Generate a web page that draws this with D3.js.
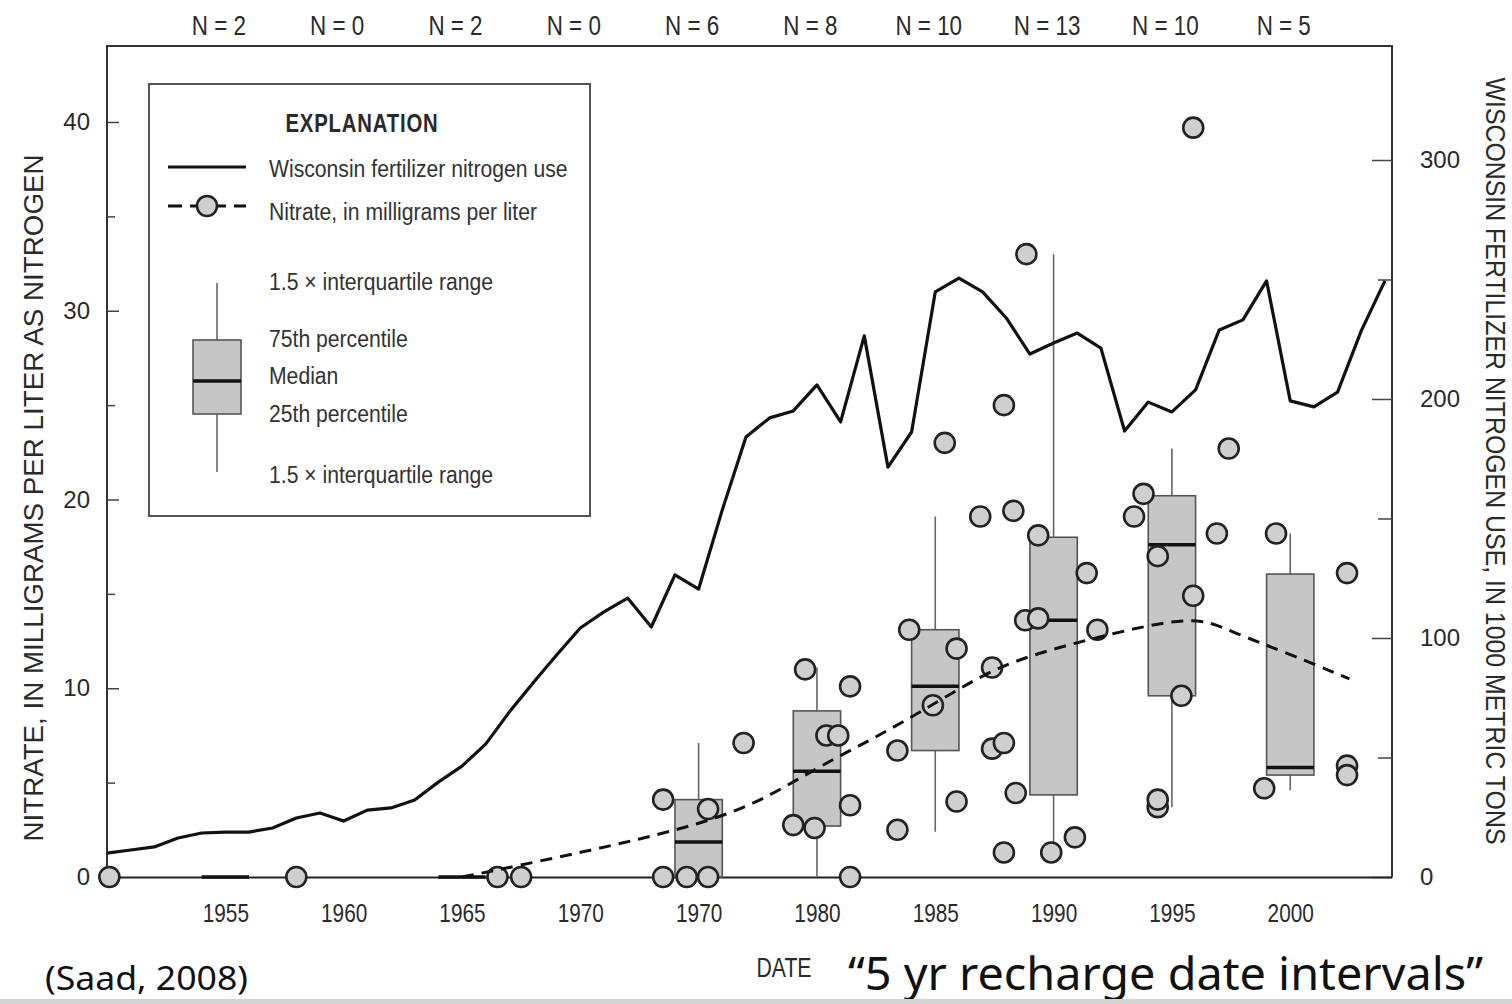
<!DOCTYPE html>
<html>
<head>
<meta charset="utf-8">
<script src="https://cdn.jsdelivr.net/npm/d3@7"></script>
<style>
  body { margin: 0; background: #fff; }
  svg { display: block; }
</style>
</head>
<body>
<div id="chart"></div>
<script>
// Wisconsin fertilizer nitrogen use, 1000 metric tons (right axis)
const fertYears = [1950, 1951, 1952, 1953, 1954, 1955, 1956, 1957, 1958, 1959,
  1960, 1961, 1962, 1963, 1964, 1965, 1966, 1967, 1968, 1969,
  1970, 1971, 1972, 1973, 1974, 1975, 1976, 1977, 1978, 1979,
  1980, 1981, 1982, 1983, 1984, 1985, 1986, 1987, 1988, 1989,
  1990, 1991, 1992, 1993, 1994, 1995, 1996, 1997, 1998, 1999,
  2000, 2001, 2002, 2003, 2004];
const fertUse = [10, 11.3, 12.6, 16.3, 18.4, 18.8, 18.8, 20.5, 24.7, 26.8,
  23.4, 28, 28.9, 32.2, 39.7, 46.4, 55.6, 69, 81.2, 92.9,
  104.2, 110.9, 116.7, 104.6, 126.4, 120.5, 153.6, 184.1, 192.1, 195,
  205.9, 190.4, 226.4, 171.5, 186.2, 244.8, 250.6, 244.8, 233.9, 218.8,
  223.4, 227.6, 221.3, 186.6, 198.7, 194.6, 203.8, 228.9, 233.1, 249.4,
  199.2, 196.7, 202.9, 228.5, 249.4];

// nitrate samples (recharge date, mg/L)
const sampleDates = [1950.1, 1958.0, 1966.5, 1967.5,
  1973.5, 1974.5, 1975.4, 1973.5, 1975.4, 1976.9,
  1979.5, 1980.4, 1980.9, 1979.0, 1979.9, 1981.4, 1981.4, 1981.4,
  1987.9, 1985.4, 1986.9, 1988.3, 1989.35, 1991.4, 1983.9, 1985.9, 1988.8, 1989.35,
  1991.85, 1984.9, 1987.4, 1983.4, 1987.4, 1987.9, 1985.9, 1988.4, 1983.4, 1987.9,
  1989.9, 1990.9, 1988.85,
  1995.9, 1993.8, 1993.4, 1994.4, 1995.9, 1995.4, 1994.4, 1994.4, 1996.9, 1997.4,
  1999.4, 1998.9, 2002.4, 2002.4, 2002.4];
const sampleNitrate = [0, 0, 0, 0,
  0, 0, 0, 4.1, 3.6, 7.1,
  11.0, 7.5, 7.5, 2.75, 2.6, 10.1, 3.8, 0,
  25.0, 23.0, 19.1, 19.4, 18.1, 16.1, 13.1, 12.1, 13.6, 13.7,
  13.1, 9.1, 11.1, 6.7, 6.8, 7.1, 4.0, 4.45, 2.5, 1.3,
  1.3, 2.1, 33.0,
  39.7, 20.3, 19.1, 17.0, 14.9, 9.6, 3.7, 4.1, 18.2, 22.7,
  18.2, 4.7, 16.1, 5.9, 5.4];

// smoothed nitrate trend (dashed)
const trendYears = [1965, 1966.5, 1970, 1972.5, 1975, 1977.5, 1980, 1982.5, 1985,
  1987.5, 1990, 1992.5, 1995, 1996.5, 1997.5, 2000, 2002.5];
const trendNitrate = [0, 0.37, 1.3, 2.0, 2.8, 3.9, 5.8, 7.4, 9.2,
  11.1, 12.1, 12.9, 13.6, 13.6, 13.0, 11.8, 10.5];

// boxplots by 5-yr recharge interval
const boxYears = [1955, 1965, 1975, 1980, 1985, 1990, 1995, 2000];
const boxLow = [0, 0, 0, 0, 2.4, 1.3, 3.7, 4.6];
const boxQ1 = [0, 0, 0, 2.7, 6.7, 4.35, 9.6, 5.4];
const boxMedian = [0, 0, 1.85, 5.6, 10.1, 13.6, 17.6, 5.8];
const boxQ3 = [0, 0, 4.1, 8.8, 13.1, 18.0, 20.2, 16.05];
const boxHigh = [0, 0, 7.1, 11.1, 19.1, 33.0, 22.7, 18.2];

// sample counts and date tick labels
const intervalYears = [1955, 1960, 1965, 1970, 1975, 1980, 1985, 1990, 1995, 2000];
const intervalN = [2, 0, 2, 0, 6, 8, 10, 13, 10, 5];
const dateTickLabels = ["1955", "1960", "1965", "1970", "1970", "1980", "1985", "1990", "1995", "2000"];

const face = "'Liberation Sans', Arial, sans-serif";
const ink = "#2a2a2a";

// squeeze text horizontally to mimic the condensed typeface of the figure
function condense(sel, ratio) {
  sel.each(function () {
    const w = this.getComputedTextLength();
    d3.select(this).attr("textLength", w * ratio).attr("lengthAdjust", "spacingAndGlyphs");
  });
}
function fitTo(sel, width) {
  sel.attr("textLength", width).attr("lengthAdjust", "spacingAndGlyphs");
}

const svg = d3.select("#chart")
  .append("svg")
  .attr("width", 1512)
  .attr("height", 1004);

const plotLeft = 107, plotRight = 1392, plotTop = 46, plotBottom = 877;

const x = d3.scaleLinear().domain([1950, 2004.3]).range([plotLeft, plotRight]);
const yL = d3.scaleLinear().domain([0, 40]).range([plotBottom, 122]);
const yR = d3.scaleLinear().domain([0, 300]).range([plotBottom, 160]);

// frame
svg.append("path")
  .attr("d", `M${plotLeft},${plotBottom}V${plotTop}H${plotRight}V${plotBottom}`)
  .attr("fill", "none")
  .attr("stroke", "#333")
  .attr("stroke-width", 2);

// left axis (ticks point inward)
svg.append("g")
  .attr("transform", `translate(${plotLeft},0)`)
  .call(d3.axisLeft(yL).tickValues([5, 15, 25, 35]).tickSize(-8).tickFormat(""))
  .call(g => g.select(".domain").remove())
  .call(g => g.selectAll("line").attr("stroke", "#444").attr("stroke-width", 1.5));
svg.append("g")
  .attr("transform", `translate(${plotLeft},0)`)
  .call(d3.axisLeft(yL).tickValues([0, 10, 20, 30, 40]).tickSizeInner(-12).tickSizeOuter(0).tickPadding(17))
  .call(g => g.select(".domain").remove())
  .call(g => g.selectAll("line").attr("stroke", "#444").attr("stroke-width", 1.5))
  .call(g => g.selectAll("text").attr("font-family", face).attr("font-size", 24).attr("fill", ink));

// right axis (ticks point inward)
svg.append("g")
  .attr("transform", `translate(${plotRight},0)`)
  .call(d3.axisRight(yR).tickValues([50, 150, 250]).tickSize(-14).tickFormat(""))
  .call(g => g.select(".domain").remove())
  .call(g => g.selectAll("line").attr("stroke", "#444").attr("stroke-width", 1.5));
svg.append("g")
  .attr("transform", `translate(${plotRight},0)`)
  .call(d3.axisRight(yR).tickValues([0, 100, 200, 300]).tickSizeInner(-20).tickSizeOuter(0).tickPadding(28))
  .call(g => g.select(".domain").remove())
  .call(g => g.selectAll("line").attr("stroke", "#444").attr("stroke-width", 1.5))
  .call(g => g.selectAll("text").attr("font-family", face).attr("font-size", 24).attr("fill", ink));

// bottom date labels
svg.append("g")
  .attr("transform", `translate(0,${plotBottom})`)
  .call(d3.axisBottom(x).tickValues(intervalYears).tickSize(0).tickPadding(27)
    .tickFormat((d, i) => dateTickLabels[i]))
  .call(g => g.select(".domain").attr("stroke", "#222").attr("stroke-width", 2))
  .call(g => g.selectAll("text").attr("font-family", face).attr("font-size", 26).attr("fill", ink)
    .call(condense, 0.8));

// N counts above the frame
svg.append("g")
  .attr("transform", `translate(-7,35)`)
  .call(d3.axisTop(x).tickValues(intervalYears).tickSize(0).tickPadding(0)
    .tickFormat((d, i) => "N = " + intervalN[i]))
  .call(g => g.select(".domain").remove())
  .call(g => g.selectAll("text").attr("font-family", face).attr("font-size", 28).attr("fill", ink)
    .call(condense, 0.8));

// boxplots
const boxW = x(1951) - x(1950);
const boxes = svg.append("g");
boxYears.forEach((yr, i) => {
  const cx = x(yr);
  boxes.append("line")
    .attr("x1", cx).attr("x2", cx)
    .attr("y1", yL(boxLow[i])).attr("y2", yL(boxHigh[i]))
    .attr("stroke", "#666").attr("stroke-width", 1.6);
  boxes.append("rect")
    .attr("x", cx - boxW).attr("width", boxW * 2)
    .attr("y", yL(boxQ3[i])).attr("height", yL(boxQ1[i]) - yL(boxQ3[i]))
    .attr("fill", "#c6c6c6").attr("stroke", "#555").attr("stroke-width", 1.6);
  boxes.append("line")
    .attr("x1", cx - boxW).attr("x2", cx + boxW)
    .attr("y1", yL(boxMedian[i])).attr("y2", yL(boxMedian[i]))
    .attr("stroke", "#111").attr("stroke-width", 3.5);
});

// fertilizer use line
svg.append("path")
  .datum(fertYears.map((d, i) => [d, fertUse[i]]))
  .attr("fill", "none")
  .attr("stroke", "#111")
  .attr("stroke-width", 3.2)
  .attr("stroke-linejoin", "round")
  .attr("d", d3.line().x(d => x(d[0])).y(d => yR(d[1])));

// sample points
svg.append("g")
  .selectAll("circle")
  .data(sampleDates.map((d, i) => [d, sampleNitrate[i]]))
  .enter()
  .append("circle")
  .attr("cx", d => x(d[0]))
  .attr("cy", d => yL(d[1]))
  .attr("r", 10)
  .attr("fill", "#cfcfcf")
  .attr("stroke", "#222")
  .attr("stroke-width", 2.6);

// smoothed trend
svg.append("path")
  .datum(trendYears.map((d, i) => [d, trendNitrate[i]]))
  .attr("fill", "none")
  .attr("stroke", "#111")
  .attr("stroke-width", 3)
  .attr("stroke-dasharray", "12,8")
  .attr("d", d3.line().curve(d3.curveBasis).x(d => x(d[0])).y(d => yL(d[1])));

// legend
const lg = svg.append("g");
lg.append("rect")
  .attr("x", 149).attr("y", 84).attr("width", 441).attr("height", 432)
  .attr("fill", "#fff").attr("stroke", "#555").attr("stroke-width", 2);
lg.append("text")
  .attr("x", 362).attr("y", 132)
  .attr("text-anchor", "middle")
  .attr("font-family", face).attr("font-weight", "bold").attr("font-size", 25)
  .attr("letter-spacing", 1).attr("fill", ink)
  .text("EXPLANATION")
  .call(fitTo, 153);
lg.append("line")
  .attr("x1", 168).attr("x2", 246).attr("y1", 167).attr("y2", 167)
  .attr("stroke", "#111").attr("stroke-width", 3.2);
lg.append("line")
  .attr("x1", 168).attr("x2", 246).attr("y1", 206).attr("y2", 206)
  .attr("stroke", "#111").attr("stroke-width", 3).attr("stroke-dasharray", "14,8");
lg.append("circle")
  .attr("cx", 207).attr("cy", 206).attr("r", 10)
  .attr("fill", "#cfcfcf").attr("stroke", "#222").attr("stroke-width", 2.6);
lg.append("line")
  .attr("x1", 217).attr("x2", 217).attr("y1", 283).attr("y2", 472)
  .attr("stroke", "#666").attr("stroke-width", 1.6);
lg.append("rect")
  .attr("x", 193).attr("y", 340).attr("width", 48).attr("height", 74)
  .attr("fill", "#c6c6c6").attr("stroke", "#555").attr("stroke-width", 1.6);
lg.append("line")
  .attr("x1", 193).attr("x2", 241).attr("y1", 381).attr("y2", 381)
  .attr("stroke", "#111").attr("stroke-width", 3.5);

const legendLabels = [
  ["Wisconsin fertilizer nitrogen use", 177],
  ["Nitrate, in milligrams per liter", 220],
  ["1.5 \u00d7 interquartile range", 290],
  ["75th percentile", 347],
  ["Median", 384],
  ["25th percentile", 422],
  ["1.5 \u00d7 interquartile range", 483]
];
lg.selectAll("text.item")
  .data(legendLabels)
  .enter()
  .append("text")
  .attr("class", "item")
  .attr("x", 269)
  .attr("y", d => d[1])
  .attr("font-family", face).attr("font-size", 23.5).attr("fill", "#333")
  .text(d => d[0])
  .call(condense, 0.9);

// axis titles
svg.append("text")
  .attr("transform", "translate(43,498) rotate(-90)")
  .attr("text-anchor", "middle")
  .attr("font-family", face).attr("font-size", 27).attr("fill", ink)
  .text("NITRATE, IN MILLIGRAMS PER LITER AS NITROGEN")
  .call(fitTo, 687);
svg.append("text")
  .attr("transform", "translate(1486,461) rotate(90)")
  .attr("text-anchor", "middle")
  .attr("font-family", face).attr("font-size", 27).attr("fill", ink)
  .text("WISCONSIN FERTILIZER NITROGEN USE, IN 1000 METRIC TONS")
  .call(fitTo, 767);
svg.append("text")
  .attr("x", 784).attr("y", 977)
  .attr("text-anchor", "middle")
  .attr("font-family", face).attr("font-size", 27).attr("fill", ink)
  .text("DATE")
  .call(fitTo, 55);

// captions
svg.append("text")
  .attr("x", 848).attr("y", 990)
  .attr("font-family", "'Noto Sans', sans-serif").attr("font-size", 45).attr("fill", "#111")
  .text("\u201c5 yr recharge date intervals\u201d")
  .call(fitTo, 635);
svg.append("text")
  .attr("x", 45).attr("y", 990)
  .attr("font-family", "'Noto Sans', sans-serif").attr("font-size", 33).attr("fill", "#111")
  .text("(Saad, 2008)")
  .call(fitTo, 203);
svg.append("rect")
  .attr("x", 0).attr("y", 999).attr("width", 1512).attr("height", 5)
  .attr("fill", "#d4d4d4");
</script>
</body>
</html>
